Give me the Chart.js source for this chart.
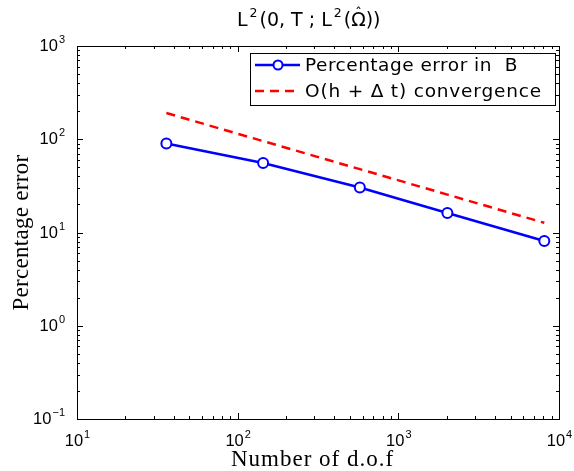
<!DOCTYPE html>
<html>
<head>
<meta charset="utf-8">
<script src="https://cdn.jsdelivr.net/npm/chart.js@4.4.1/dist/chart.umd.min.js"></script>
<style>
  html, body { margin: 0; padding: 0; background: #fff; }
  canvas { display: block; }
</style>
</head>
<body>
<canvas id="errorChart" width="574" height="471"></canvas>
<script>
// valores
const dofs = [36, 144, 576, 2020, 8100];
const errB = [90, 55.7, 30.4, 16.2, 8.1];
const rateRef = [191, 95.5, 47.8, 25.5, 12.7];
const xExps = [1, 2, 3, 4];
const yExps = [-1, 0, 1, 2, 3];
const legendLabels = ['Percentage error in  B', 'O(h + \u0394 t) convergence'];
const titleParts = [['L', false], ['2', true], ['(0, T ; L', false], ['2', true], ['(', false], ['\u03A9', false], ['))', false]];

const SANS = '"Liberation Sans", Arial, sans-serif';
const SERIF = '"Liberation Serif", "Times New Roman", serif';
const TITLE_FONT = '"DejaVu Sans", sans-serif';

// escreve 10^exp
function drawPow(ctx, x, y, exp, align) {
    const base = '10';
    const sup = exp < 0 ? '\u2212' + Math.abs(exp) : String(exp);
    ctx.font = '16.5px ' + SANS;
    const wb = ctx.measureText(base).width;
    ctx.font = '11px ' + SANS;
    const ws = ctx.measureText(sup).width;
    let x0 = x;
    if (align === 'center') x0 = x - (wb + ws) / 2;
    if (align === 'right') x0 = x - (wb + ws);
    ctx.textAlign = 'left';
    ctx.textBaseline = 'alphabetic';
    ctx.font = '16.5px ' + SANS;
    ctx.fillText(base, x0, y);
    ctx.font = '11px ' + SANS;
    ctx.fillText(sup, x0 + wb + 1, y - 8);
}

// texto com largura ajustada por espaçamento
function fitText(ctx, text, x, y, target) {
    ctx.letterSpacing = '0px';
    const w = ctx.measureText(text).width;
    const extra = Math.max(0, (target - w) / text.length);
    ctx.letterSpacing = extra.toFixed(2) + 'px';
    ctx.fillText(text, x, y);
    ctx.letterSpacing = '0px';
}

// contorno, marcas internas, rótulos, títulos e legenda no estilo MATLAB
const axesDecor = {
    id: 'axesDecor',
    afterDraw(chart) {
        const ctx = chart.ctx;
        const { left, right, top, bottom } = chart.chartArea;
        const xs = chart.scales.x;
        const ys = chart.scales.y;
        ctx.save();
        ctx.fillStyle = '#000';
        ctx.strokeStyle = '#000';
        ctx.lineWidth = 1;
        ctx.setLineDash([]);
        ctx.strokeRect(left + 0.5, top + 0.5, right - left, bottom - top);

        ctx.beginPath();
        for (let d = 1; d <= 4; d++) {
            for (let m = 1; m <= 9; m++) {
                const v = m * Math.pow(10, d);
                if (v > xs.max) break;
                const px = Math.round(xs.getPixelForValue(v)) + 0.5;
                const len = m === 1 ? 6 : 3;
                ctx.moveTo(px, bottom); ctx.lineTo(px, bottom - len);
                ctx.moveTo(px, top); ctx.lineTo(px, top + len);
            }
        }
        for (let d = -1; d <= 3; d++) {
            for (let m = 1; m <= 9; m++) {
                const v = m * Math.pow(10, d);
                if (v > ys.max + 1e-9) break;
                const py = Math.round(ys.getPixelForValue(v)) + 0.5;
                const len = m === 1 ? 6 : 3;
                ctx.moveTo(left, py); ctx.lineTo(left + len, py);
                ctx.moveTo(right, py); ctx.lineTo(right - len, py);
            }
        }
        ctx.stroke();

        xExps.forEach(e => drawPow(ctx, xs.getPixelForValue(Math.pow(10, e)), bottom + 27, e, 'center'));
        yExps.forEach(e => drawPow(ctx, left - 13, ys.getPixelForValue(Math.pow(10, e)) + 5, e, 'right'));

        // títulos dos eixos
        ctx.font = '23px ' + SERIF;
        ctx.textAlign = 'left';
        ctx.textBaseline = 'alphabetic';
        fitText(ctx, 'Number of d.o.f', 231, 466, 163);
        ctx.save();
        ctx.translate(22, (top + bottom) / 2 + 78);
        ctx.rotate(-Math.PI / 2);
        ctx.textBaseline = 'middle';
        fitText(ctx, 'Percentage error', 0, 0, 156);
        ctx.restore();

        // título
        const fBase = '19px ' + TITLE_FONT;
        const fSup = '12.5px ' + TITLE_FONT;
        let tx = 237;
        ctx.textAlign = 'left';
        ctx.textBaseline = 'alphabetic';
        titleParts.forEach(([t, sup]) => {
            ctx.font = sup ? fSup : fBase;
            const w = ctx.measureText(t).width;
            ctx.fillText(t, tx + (sup ? 2 : 0), sup ? 17 : 26);
            if (t === '\u03A9') {
                // acento circunflexo sobre o Omega
                ctx.font = '14px ' + TITLE_FONT;
                ctx.textAlign = 'center';
                ctx.fillText('\u02C6', tx + w / 2, 18);
                ctx.textAlign = 'left';
            }
            tx += w + (sup ? 4 : 0);
        });

        // legenda
        ctx.fillStyle = '#fff';
        ctx.fillRect(250, 53, 305, 52);
        ctx.strokeRect(250.5, 53.5, 305, 52);
        const rows = [65, 91];
        ctx.lineWidth = 2.5;
        ctx.strokeStyle = '#0000ff';
        ctx.beginPath(); ctx.moveTo(255, rows[0]); ctx.lineTo(300, rows[0]); ctx.stroke();
        ctx.lineWidth = 2;
        ctx.fillStyle = '#fff';
        ctx.beginPath(); ctx.arc(278, rows[0], 4.5, 0, Math.PI * 2); ctx.fill(); ctx.stroke();
        ctx.lineWidth = 2.5;
        ctx.strokeStyle = '#ff0000';
        ctx.setLineDash([9, 6]);
        ctx.beginPath(); ctx.moveTo(255, rows[1]); ctx.lineTo(300, rows[1]); ctx.stroke();
        ctx.setLineDash([]);

        const targetW = [213, 237];
        ctx.fillStyle = '#000';
        ctx.textAlign = 'left';
        ctx.textBaseline = 'middle';
        ctx.font = '18.5px ' + TITLE_FONT;
        legendLabels.forEach((lab, i) => fitText(ctx, lab, 305, rows[i] + 1, targetW[i]));
        ctx.restore();
    }
};

new Chart(document.getElementById('errorChart'), {
    type: 'line',
    data: {
        datasets: [
            {
                label: legendLabels[0],
                data: dofs.map((d, i) => ({ x: d, y: errB[i] })),
                borderColor: '#0000ff',
                borderWidth: 2.5,
                pointRadius: 5,
                pointBorderWidth: 2,
                pointBackgroundColor: '#fff',
                pointBorderColor: '#0000ff',
                tension: 0
            },
            {
                label: legendLabels[1],
                data: dofs.map((d, i) => ({ x: d, y: rateRef[i] })),
                borderColor: '#ff0000',
                borderWidth: 2.5,
                borderDash: [9, 6],
                pointRadius: 0,
                tension: 0
            }
        ]
    },
    options: {
        responsive: false,
        animation: false,
        devicePixelRatio: 1,
        layout: { padding: { left: 77, top: 46, right: 15, bottom: 52 } },
        scales: {
            x: { type: 'logarithmic', min: 10, max: 10000, display: false },
            y: { type: 'logarithmic', min: 0.1, max: 1000, display: false }
        },
        plugins: {
            legend: { display: false },
            tooltip: { enabled: false },
            title: { display: false }
        }
    },
    plugins: [axesDecor]
});
</script>
</body>
</html>
